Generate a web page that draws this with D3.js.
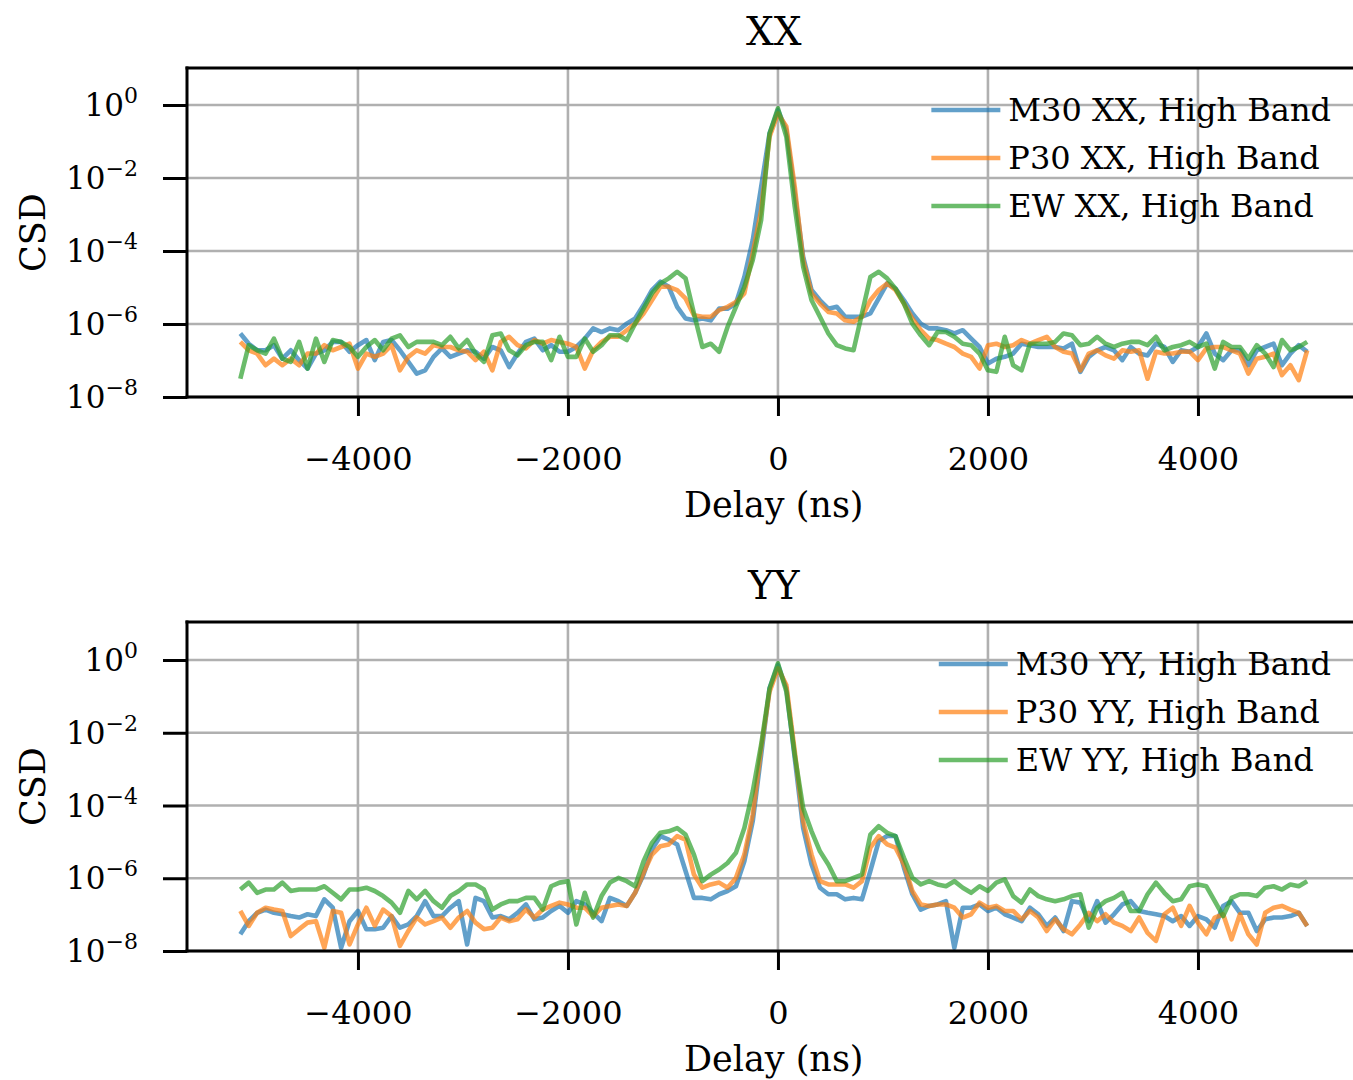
<!DOCTYPE html>
<html>
<head>
<meta charset="utf-8">
<script src="https://cdn.jsdelivr.net/npm/d3@7"></script>
<style>
  body { margin: 0; background: #fff; }
  svg { font-family: "DejaVu Serif", serif; }
</style>
</head>
<body>
<div id="chart"></div>
<script>
const width = 1353;
const height = 1080;

// 128 delay bins, 80 ns apart (fftshifted)
const delays = d3.range(-5120, 5041, 80);
const xTicks = [-4000, -2000, 0, 2000, 4000];
const yTickExps = [0, -2, -4, -6, -8];
const stations = ["M30", "P30", "EW"];
const colors = ["#1f77b4", "#ff7f0e", "#2ca02c"];

// log10(CSD)
const xxM30 = [
  -6.26,-6.54,-6.72,-6.72,-6.58,-6.95,-6.72,-6.99,-7.22,-6.81,
  -6.72,-6.49,-6.49,-6.76,-6.58,-6.44,-6.99,-6.49,-6.44,-6.72,
  -7.04,-7.36,-7.27,-6.90,-6.67,-6.90,-6.81,-6.72,-6.76,-6.95,
  -6.63,-6.72,-7.18,-6.81,-6.49,-6.40,-6.72,-6.58,-6.76,-6.76,
  -6.63,-6.40,-6.12,-6.22,-6.12,-6.17,-5.99,-5.85,-5.48,-5.07,
  -4.84,-4.98,-5.53,-5.85,-5.90,-5.85,-5.90,-5.58,-5.58,-5.44,
  -4.71,-3.70,-2.24,-0.78,-0.14,-0.69,-2.42,-4.16,-5.07,-5.35,
  -5.58,-5.53,-5.80,-5.80,-5.80,-5.71,-5.30,-4.89,-5.03,-5.35,
  -5.71,-5.99,-6.12,-6.12,-6.17,-6.26,-6.17,-6.40,-6.63,-7.08,
  -6.95,-6.90,-6.81,-6.54,-6.58,-6.63,-6.63,-6.63,-6.67,-6.54,
  -7.31,-6.90,-6.72,-6.63,-6.72,-6.99,-6.63,-6.81,-6.86,-6.54,
  -6.63,-7.04,-6.72,-6.76,-6.63,-6.26,-6.81,-6.99,-6.72,-6.72,
  -7.13,-6.72,-6.63,-6.54,-7.13,-6.81,-6.58,-6.76
];
const xxP30 = [
  -6.49,-6.72,-6.81,-7.13,-6.95,-7.13,-6.95,-7.13,-6.81,-6.81,
  -6.58,-6.72,-6.63,-6.54,-7.22,-6.81,-6.90,-6.81,-6.58,-7.27,
  -6.90,-6.72,-6.81,-6.58,-6.63,-6.63,-6.72,-6.76,-6.99,-6.76,
  -7.27,-6.49,-6.35,-6.58,-6.67,-6.44,-6.54,-6.44,-6.49,-6.54,
  -6.63,-7.22,-6.72,-6.49,-6.35,-6.35,-6.17,-5.99,-5.71,-5.35,
  -4.98,-4.98,-5.07,-5.30,-5.76,-5.80,-5.80,-5.62,-5.53,-5.40,
  -5.16,-4.07,-2.88,-0.87,-0.23,-0.59,-2.24,-4.25,-5.16,-5.44,
  -5.67,-5.71,-5.90,-5.94,-5.80,-5.35,-5.07,-4.89,-5.07,-5.44,
  -5.85,-6.17,-6.40,-6.44,-6.54,-6.63,-6.81,-6.90,-7.22,-6.58,
  -6.54,-6.63,-6.58,-6.44,-6.54,-6.44,-6.35,-6.63,-6.76,-6.81,
  -7.27,-6.81,-6.72,-6.86,-6.95,-6.72,-6.76,-6.72,-7.50,-6.76,
  -6.81,-6.81,-6.76,-6.76,-6.99,-6.67,-6.63,-6.63,-6.72,-6.81,
  -7.36,-6.95,-6.90,-6.81,-7.40,-7.13,-7.54,-6.72
];
const xxEW = [
  -7.50,-6.58,-6.72,-6.81,-6.40,-6.95,-7.04,-6.49,-7.22,-6.40,
  -7.04,-6.44,-6.49,-6.63,-6.90,-6.63,-6.44,-6.72,-6.40,-6.31,
  -6.63,-6.49,-6.49,-6.49,-6.58,-6.35,-6.67,-6.44,-6.81,-7.04,
  -6.31,-6.26,-6.72,-6.86,-6.58,-6.49,-6.49,-6.99,-6.35,-6.90,
  -6.90,-6.40,-6.76,-6.58,-6.31,-6.31,-6.44,-5.99,-5.58,-5.16,
  -4.89,-4.75,-4.57,-4.75,-5.71,-6.63,-6.54,-6.76,-6.08,-5.53,
  -4.98,-4.25,-3.15,-0.78,-0.09,-0.87,-2.79,-4.43,-5.35,-5.80,
  -6.26,-6.58,-6.67,-6.72,-5.71,-4.71,-4.57,-4.75,-5.03,-5.44,
  -5.99,-6.31,-6.58,-6.22,-6.22,-6.35,-6.54,-6.58,-6.81,-7.27,
  -7.31,-6.35,-7.13,-7.27,-6.54,-6.54,-6.54,-6.49,-6.26,-6.31,
  -6.58,-6.54,-6.35,-6.54,-6.63,-6.54,-6.49,-6.49,-6.58,-6.35,
  -6.72,-6.63,-6.58,-6.49,-6.63,-6.54,-7.22,-6.49,-6.63,-6.63,
  -6.95,-6.58,-6.81,-7.18,-6.44,-6.72,-6.63,-6.49
];
const yyM30 = [
  -7.54,-7.18,-6.95,-6.86,-6.95,-6.99,-7.04,-7.08,-6.99,-7.04,
  -6.58,-6.81,-7.91,-7.18,-6.90,-7.40,-7.40,-7.36,-7.04,-7.36,
  -7.27,-7.04,-6.63,-7.04,-7.04,-6.81,-6.63,-7.82,-6.54,-6.63,
  -7.08,-7.04,-7.13,-6.95,-6.72,-7.13,-7.08,-6.90,-6.76,-6.95,
  -6.63,-6.72,-6.95,-7.18,-6.54,-6.63,-6.76,-6.40,-5.90,-5.21,
  -4.84,-4.94,-5.07,-5.80,-6.54,-6.54,-6.58,-6.44,-6.35,-6.22,
  -5.53,-4.43,-2.61,-0.78,-0.14,-0.78,-2.70,-4.62,-5.62,-6.26,
  -6.44,-6.44,-6.58,-6.54,-6.58,-5.80,-4.98,-4.84,-4.84,-5.71,
  -6.44,-6.86,-6.76,-6.72,-6.63,-7.91,-6.81,-6.81,-6.72,-6.90,
  -6.81,-6.99,-7.08,-7.18,-6.81,-6.99,-7.31,-7.08,-7.45,-6.63,
  -6.67,-7.18,-6.63,-7.22,-6.99,-6.72,-6.63,-6.90,-6.95,-6.99,
  -7.04,-7.18,-7.04,-7.31,-7.04,-7.13,-7.36,-6.76,-6.63,-6.95,
  -6.95,-7.45,-7.13,-7.08,-7.08,-7.04,-6.95,-7.31
];
const yyP30 = [
  -6.90,-7.31,-6.95,-6.81,-6.86,-6.90,-7.59,-7.40,-7.22,-7.18,
  -7.91,-6.90,-6.95,-7.82,-7.27,-6.81,-7.31,-6.86,-7.04,-7.86,
  -7.45,-7.08,-7.27,-7.18,-7.08,-7.36,-7.08,-6.90,-7.22,-7.40,
  -7.36,-7.08,-7.18,-7.13,-6.86,-7.08,-6.86,-6.76,-6.67,-6.72,
  -6.81,-6.81,-7.04,-6.81,-6.76,-6.72,-6.76,-6.40,-5.85,-5.35,
  -5.12,-5.07,-4.84,-4.94,-5.90,-6.26,-6.17,-6.12,-6.26,-5.99,
  -5.35,-4.25,-2.42,-0.87,-0.23,-0.69,-2.51,-4.43,-5.35,-6.08,
  -6.17,-6.17,-6.17,-6.26,-6.08,-5.16,-4.84,-5.07,-5.16,-5.62,
  -6.35,-6.72,-6.76,-6.72,-6.72,-6.81,-7.08,-6.99,-6.67,-6.81,
  -6.76,-6.90,-6.90,-7.13,-6.90,-7.08,-7.45,-7.13,-7.40,-7.54,
  -7.27,-6.95,-7.18,-6.99,-7.22,-7.31,-7.45,-7.08,-7.50,-7.72,
  -6.99,-6.81,-7.31,-6.76,-7.22,-7.54,-7.08,-6.99,-7.68,-6.99,
  -7.54,-7.82,-6.95,-6.81,-6.76,-6.86,-6.95,-7.31
];
const yyEW = [
  -6.31,-6.12,-6.40,-6.31,-6.31,-6.12,-6.35,-6.31,-6.31,-6.31,
  -6.22,-6.40,-6.58,-6.31,-6.31,-6.26,-6.35,-6.49,-6.67,-6.95,
  -6.35,-6.58,-6.35,-6.63,-6.81,-6.49,-6.35,-6.17,-6.17,-6.31,
  -6.86,-6.72,-6.63,-6.63,-6.54,-6.54,-6.86,-6.22,-6.12,-6.08,
  -7.27,-6.40,-7.08,-6.49,-6.12,-5.99,-6.08,-6.22,-5.53,-5.03,
  -4.75,-4.71,-4.62,-4.80,-5.35,-6.08,-5.90,-5.76,-5.58,-5.30,
  -4.62,-3.61,-2.33,-0.78,-0.09,-0.87,-2.61,-4.07,-4.71,-5.26,
  -5.62,-6.08,-6.08,-5.99,-5.90,-4.80,-4.57,-4.75,-4.84,-5.44,
  -5.99,-6.17,-6.08,-6.17,-6.22,-6.08,-6.26,-6.40,-6.22,-6.35,
  -6.12,-6.03,-6.49,-6.67,-6.31,-6.49,-6.58,-6.63,-6.58,-6.49,
  -6.44,-7.36,-6.81,-6.63,-6.54,-6.40,-6.90,-6.90,-6.44,-6.12,
  -6.40,-6.63,-6.58,-6.22,-6.17,-6.22,-6.63,-7.04,-6.54,-6.44,
  -6.44,-6.49,-6.26,-6.22,-6.31,-6.17,-6.22,-6.08
];

const svg = d3
  .select("#chart")
  .append("svg")
  .attr("width", width)
  .attr("height", height);

const left = 187;
const right = 1360.5; // right spine falls just outside the picture
const x = d3.scaleLinear().domain([-5628, 5548]).range([left, right]);

function drawPanel(top, bottom, yTopExp, pol, series, id) {
  const y = d3
    .scaleLog()
    .domain([1e-8, Math.pow(10, yTopExp)])
    .range([bottom, top]);

  const g = svg.append("g");

  // grid
  g.selectAll(".vgrid")
    .data(xTicks)
    .enter()
    .append("line")
    .attr("x1", d => x(d))
    .attr("x2", d => x(d))
    .attr("y1", top)
    .attr("y2", bottom)
    .attr("stroke", "#b0b0b0")
    .attr("stroke-width", 2.6);
  g.selectAll(".hgrid")
    .data(yTickExps)
    .enter()
    .append("line")
    .attr("x1", left)
    .attr("x2", right)
    .attr("y1", d => y(Math.pow(10, d)))
    .attr("y2", d => y(Math.pow(10, d)))
    .attr("stroke", "#b0b0b0")
    .attr("stroke-width", 2.6);

  svg.append("clipPath")
    .attr("id", id)
    .append("rect")
    .attr("x", left)
    .attr("y", top)
    .attr("width", right - left)
    .attr("height", bottom - top);

  const line = d3
    .line()
    .x((d, i) => x(delays[i]))
    .y(d => y(Math.pow(10, d)));

  g.append("g")
    .attr("clip-path", "url(#" + id + ")")
    .selectAll("path")
    .data(series)
    .enter()
    .append("path")
    .attr("d", d => line(d))
    .attr("fill", "none")
    .attr("stroke", (d, i) => colors[i])
    .attr("stroke-opacity", 0.7)
    .attr("stroke-width", 4.6)
    .attr("stroke-linejoin", "round");

  // x axis
  const xAxis = g
    .append("g")
    .attr("transform", "translate(0," + bottom + ")")
    .call(d3.axisBottom(x).tickValues(xTicks).tickSize(19).tickFormat(d3.format("d")));
  xAxis.select(".domain").remove();
  xAxis.selectAll(".tick line").attr("stroke", "#000").attr("stroke-width", 3);
  xAxis.selectAll(".tick text")
    .attr("y", 73)
    .attr("dy", null)
    .attr("fill", "#000")
    .style("font-family", "DejaVu Serif")
    .style("font-size", "32px");

  // y axis with 10^n labels
  const yAxis = g
    .append("g")
    .attr("transform", "translate(" + left + ",0)")
    .call(
      d3.axisLeft(y)
        .tickValues(yTickExps.map(e => Math.pow(10, e)))
        .tickSize(24)
        .tickFormat("")
    );
  yAxis.select(".domain").remove();
  yAxis.selectAll(".tick line").attr("stroke", "#000").attr("stroke-width", 3);

  const yLabels = g
    .selectAll(".ylab")
    .data(yTickExps)
    .enter()
    .append("text")
    .attr("x", 138)
    .attr("y", d => y(Math.pow(10, d)) + 11)
    .attr("text-anchor", "end")
    .style("font-size", "31px");
  yLabels.append("tspan").text("10");
  yLabels.append("tspan")
    .attr("dy", -13)
    .style("font-size", "22px")
    .text(d => (d < 0 ? "\u2212" + -d : "" + d));

  // spines
  [[left, top, left, bottom], [left, top, right, top], [left, bottom, right, bottom], [right, top, right, bottom]]
    .forEach(s => {
      g.append("line")
        .attr("x1", s[0]).attr("y1", s[1])
        .attr("x2", s[2]).attr("y2", s[3])
        .attr("stroke", "#000")
        .attr("stroke-width", 3)
        .attr("stroke-linecap", "square");
    });

  // title and labels
  g.append("text")
    .attr("x", (left + right) / 2)
    .attr("y", top - 23)
    .attr("text-anchor", "middle")
    .style("font-size", "39px")
    .text(pol);

  g.append("text")
    .attr("x", (left + right) / 2)
    .attr("y", bottom + 120)
    .attr("text-anchor", "middle")
    .style("font-size", "35px")
    .text("Delay (ns)");

  g.append("text")
    .attr("transform", "translate(45," + (top + bottom) / 2 + ") rotate(-90)")
    .attr("text-anchor", "middle")
    .style("font-size", "35px")
    .text("CSD");

  // legend, right-aligned like matplotlib's upper right
  const legend = g.append("g");
  const labels = stations.map(s => s + " " + pol + ", High Band");
  const texts = legend
    .selectAll("text")
    .data(labels)
    .enter()
    .append("text")
    .attr("y", (d, i) => top + 42 + i * 48 + 11)
    .style("font-size", "32px")
    .text(d => d);
  let maxW = 0;
  texts.each(function () {
    maxW = Math.max(maxW, this.getComputedTextLength());
  });
  const textX = 1331 - maxW;
  texts.attr("x", textX);
  legend
    .selectAll("line")
    .data(labels)
    .enter()
    .append("line")
    .attr("x1", textX - 77)
    .attr("x2", textX - 8)
    .attr("y1", (d, i) => top + 42 + i * 48)
    .attr("y2", (d, i) => top + 42 + i * 48)
    .attr("stroke", (d, i) => colors[i])
    .attr("stroke-opacity", 0.7)
    .attr("stroke-width", 4.6);
}

drawPanel(68, 397, 1.014, "XX", [xxM30, xxP30, xxEW], "clipXX");
drawPanel(622, 951, 1.045, "YY", [yyM30, yyP30, yyEW], "clipYY");
</script>
</body>
</html>
